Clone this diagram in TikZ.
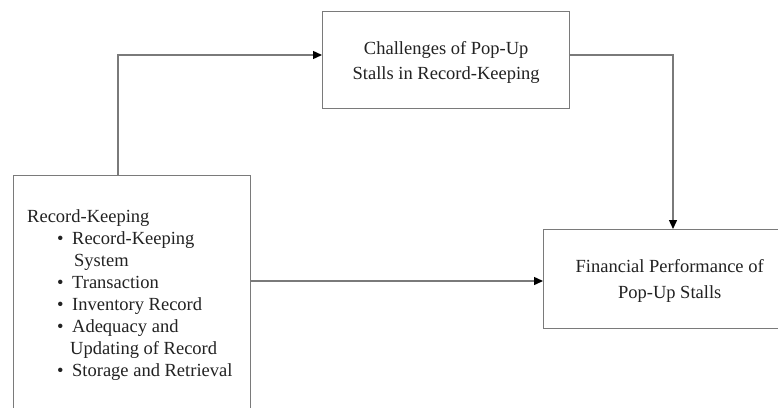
\documentclass[tikz,border=0pt]{standalone}
\usepackage{fontspec}
\setmainfont{Liberation Serif}
\usetikzlibrary{arrows.meta}
\definecolor{linegray}{HTML}{7A7A7A}
\definecolor{txt}{HTML}{222222}
\tikzset{
  box/.style={draw=linegray, line width=1.4pt, inner sep=0pt, fill=none},
  boxtext/.style={text=txt, font=\fontsize{18.5}{25.5}\selectfont, align=center, inner sep=0pt},
  conn/.style={draw=linegray, line width=1.4pt, -{Triangle[length=9pt,width=8pt,color=black]}},
  lst/.style={text=txt, font=\fontsize{18.5}{22.1}\selectfont, align=left, inner sep=0pt}
}
\begin{document}
\begin{tikzpicture}[x=1pt,y=1pt]
\useasboundingbox (0,0) rectangle (778,-407);
\fill[white] (0,0) rectangle (778,-407);
% boxes
\node[box, anchor=north west, minimum width=237pt, minimum height=260pt] (left) at (13,-175) {};
\node[box, anchor=north west, minimum width=247pt, minimum height=97pt] (top) at (322,-11) {};
\node[box, anchor=north west, minimum width=252pt, minimum height=99pt] (right) at (543,-229) {};
\node[boxtext] (toptext) at ([yshift=-2.5pt]top.center) {Challenges of Pop-Up\\Stalls in Record-Keeping};
\node[boxtext] (righttext) at ([yshift=-2pt]right.center) {Financial Performance of\\Pop-Up Stalls};
% list text
\node[lst, anchor=north west] (listtext) at (27,-209) {%
Record-Keeping\\
\hspace*{30pt}\textbullet\hspace*{8.5pt}Record-Keeping\\
\hspace*{47pt}System\\
\hspace*{30pt}\textbullet\hspace*{8.5pt}Transaction\\
\hspace*{30pt}\textbullet\hspace*{8.5pt}Inventory Record\\
\hspace*{30pt}\textbullet\hspace*{8.5pt}Adequacy and\\
\hspace*{43pt}Updating of Record\\
\hspace*{30pt}\textbullet\hspace*{8.5pt}Storage and Retrieval};
% connectors
\coordinate (c1) at (118,-55);
\coordinate (c2) at (673,-55);
\coordinate (c3) at (0,-281);
\draw[conn] (c1 |- left.north) -- (c1) -- (c1 -| top.west);
\draw[conn] (c2 -| top.east) -- (c2) -- (c2 |- right.north);
\draw[conn] (c3 -| left.east) -- (c3 -| right.west);
\end{tikzpicture}
\end{document}
